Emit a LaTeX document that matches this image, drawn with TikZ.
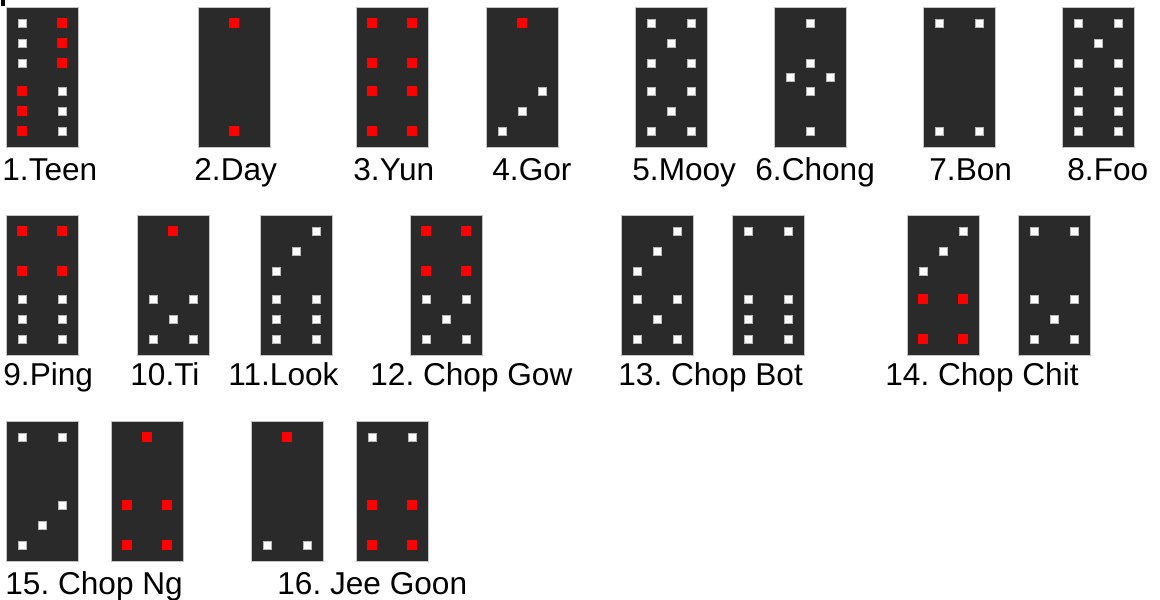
\documentclass[tikz,border=0pt]{standalone}
\usepackage{fontspec}
\setmainfont{Liberation Sans}
\usepackage{tikz}
\usetikzlibrary{positioning,calc}
\frenchspacing
\definecolor{tilebg}{HTML}{2A2A2A}
\definecolor{tileedge}{HTML}{C4C4C4}
\definecolor{pipred}{HTML}{FF0000}
\definecolor{pipedge}{HTML}{B8B8B8}
\tikzset{
  tile/.style={draw=tileedge, fill=tilebg, line width=0.6pt, minimum width=36pt,
    minimum height=70pt, inner sep=0pt, anchor=north west},
  wpip/.style={draw=pipedge, fill=white, line width=0.3pt, minimum size=4pt, inner sep=0pt},
  rpip/.style={fill=pipred, minimum size=4.8pt, inner sep=0pt},
  tilename/.style={font=\fontsize{15.8}{19}\selectfont, anchor=base west, inner sep=0pt},
}
% pips on a tile: tile, pip style, list of column/row offsets
\newcommand{\pips}[3]{\foreach \cx/\cy in {#3}
  \node[#2] (#1p\cx\cy) at ($(#1.north west)+(\cx,\cy)$) {};}

\begin{document}
\begin{tikzpicture}[x=0.5pt, y=-0.5pt]
\useasboundingbox (0,0) rectangle (1160,599);
\fill[black] (1,0) rectangle (5,6);

% first row
\node[tile] (t1) at (6,7) {};
\node[tile] (t2) at (198,7) {};
\node[tile] (t3) at (356,7) {};
\node[tile] (t4) at (486,7) {};
\node[tile] (t5) at (635,7) {};
\node[tile] (t6) at (774,7) {};
\node[tile] (t7) at (923,7) {};
\node[tile] (t8) at (1062,7) {};

\pips{t1}{wpip}{16/16,16/36,16/56,56/84,56/104,56/124}
\pips{t1}{rpip}{56/16,56/36,56/56,16/84,16/104,16/124}
\pips{t2}{rpip}{36/16,36/124}
\pips{t3}{rpip}{16/16,56/16,16/56,56/56,16/84,56/84,16/124,56/124}
\pips{t4}{rpip}{36/16}
\pips{t4}{wpip}{56/84,36/104,16/124}
\pips{t5}{wpip}{16/16,56/16,36/36,16/56,56/56,16/84,56/84,36/104,16/124,56/124}
\pips{t6}{wpip}{36/16,36/56,16/70,56/70,36/84,36/124}
\pips{t7}{wpip}{16/16,56/16,16/124,56/124}
\pips{t8}{wpip}{16/16,56/16,36/36,16/56,56/56,16/84,56/84,16/104,56/104,16/124,56/124}

\node[tilename] (l1) at (2,180) {1.Teen};
\node[tilename] (l2) at (194,180) {2.Day};
\node[tilename] (l3) at (353,180) {3.Yun};
\node[tilename] (l4) at (492,180) {4.Gor};
\node[tilename] (l5) at (632,180) {5.Mooy};
\node[tilename] (l6) at (755,180) {6.Chong};
\node[tilename] (l7) at (929,180) {7.Bon};
\node[tilename] (l8) at (1067,180) {8.Foo};

% second row
\node[tile] (t9) at (6,215) {};
\node[tile] (t10) at (137,215) {};
\node[tile] (t11) at (260,215) {};
\node[tile] (t12) at (410,215) {};
\node[tile] (t13a) at (621,215) {};
\node[tile, right=19pt of t13a] (t13b) {};
\node[tile] (t14a) at (907,215) {};
\node[tile, right=19pt of t14a] (t14b) {};

\pips{t9}{rpip}{16/16,56/16,16/56,56/56}
\pips{t9}{wpip}{16/84,56/84,16/104,56/104,16/124,56/124}
\pips{t10}{rpip}{36/16}
\pips{t10}{wpip}{16/84,56/84,36/104,16/124,56/124}
\pips{t11}{wpip}{56/16,36/36,16/56,16/84,56/84,16/104,56/104,16/124,56/124}
\pips{t12}{rpip}{16/16,56/16,16/56,56/56}
\pips{t12}{wpip}{16/84,56/84,36/104,16/124,56/124}
\pips{t13a}{wpip}{56/16,36/36,16/56,16/84,56/84,36/104,16/124,56/124}
\pips{t13b}{wpip}{16/16,56/16,16/84,56/84,16/104,56/104,16/124,56/124}
\pips{t14a}{wpip}{56/16,36/36,16/56}
\pips{t14a}{rpip}{16/84,56/84,16/124,56/124}
\pips{t14b}{wpip}{16/16,56/16,16/84,56/84,36/104,16/124,56/124}

\node[tilename] (l9) at (3,385) {9.Ping};
\node[tilename] (l10) at (130,385) {10.Ti};
\node[tilename] (l11) at (228,385) {11.Look};
\node[tilename] (l12) at (370,385) {12. Chop Gow};
\node[tilename] (l13) at (618,385) {13. Chop Bot};
\node[tilename] (l14) at (885,385) {14. Chop Chit};

% third row
\node[tile] (t15a) at (6,421) {};
\node[tile, right=16pt of t15a] (t15b) {};
\node[tile] (t16a) at (251,421) {};
\node[tile, right=16pt of t16a] (t16b) {};

\pips{t15a}{wpip}{16/16,56/16,56/84,36/104,16/124}
\pips{t15b}{rpip}{36/16,16/84,56/84,16/124,56/124}
\pips{t16a}{rpip}{36/16}
\pips{t16a}{wpip}{16/124,56/124}
\pips{t16b}{wpip}{16/16,56/16}
\pips{t16b}{rpip}{16/84,56/84,16/124,56/124}

\node[tilename] (l15) at (5,594) {15. Chop Ng};
\node[tilename] (l16) at (277,594) {16. Jee Goon};
\end{tikzpicture}
\end{document}
